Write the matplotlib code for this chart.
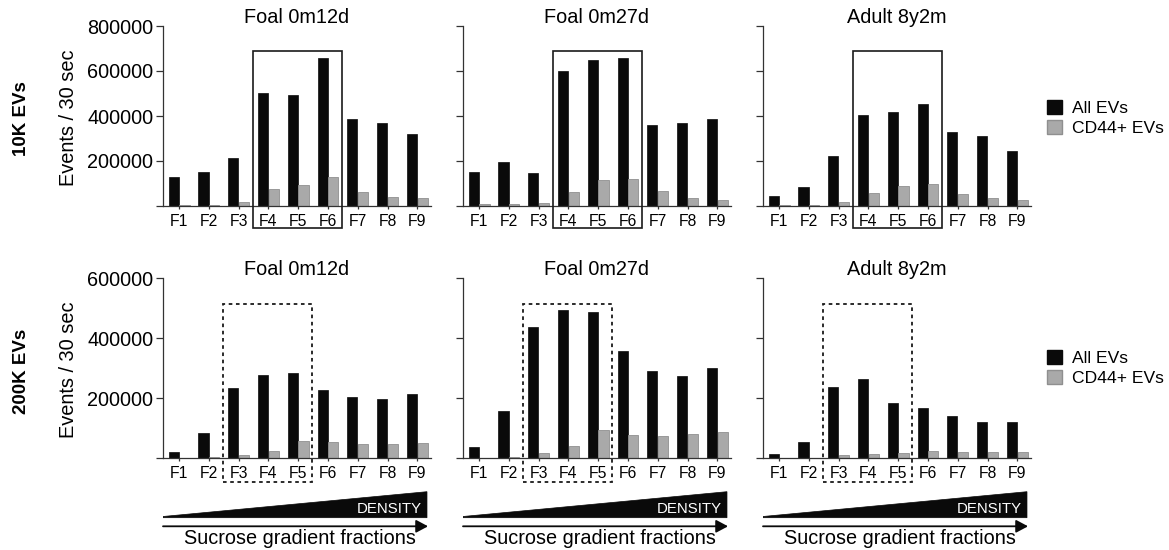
import matplotlib
matplotlib.use("Agg")
import matplotlib.pyplot as plt
from matplotlib.patches import Rectangle, Polygon, Patch

plt.rcParams['font.family'] = ['Liberation Sans', 'DejaVu Sans']

fractions = ["F1", "F2", "F3", "F4", "F5", "F6", "F7", "F8", "F9"]
titles = ["Foal 0m12d", "Foal 0m27d", "Adult 8y2m"]
row_labels = ["10K EVs", "200K EVs"]
legend_labels = ["All EVs", "CD44+ EVs"]

# 10K EVs
all_10k = [
    [130000, 153000, 213000, 500000, 493000, 659000, 385000, 369000, 321000],
    [150000, 194000, 145000, 598000, 649000, 658000, 358000, 370000, 388000],
    [46000, 86000, 221000, 403000, 418000, 455000, 329000, 311000, 244000],
]
cd44_10k = [
    [5000, 5000, 19000, 75000, 95000, 127000, 61000, 41000, 36000],
    [7000, 10000, 13000, 61000, 114000, 121000, 67000, 37000, 27000],
    [3000, 3000, 18000, 56000, 87000, 98000, 53000, 36000, 25000],
]
# 200K EVs
all_200k = [
    [20000, 84000, 234000, 277000, 284000, 228000, 204000, 198000, 212000],
    [36000, 158000, 438000, 494000, 488000, 356000, 291000, 272000, 300000],
    [14000, 54000, 238000, 264000, 184000, 168000, 139000, 119000, 121000],
]
cd44_200k = [
    [0, 2000, 9000, 23000, 56000, 53000, 46000, 48000, 50000],
    [0, 2000, 16000, 40000, 92000, 78000, 73000, 79000, 87000],
    [0, 1000, 9000, 13000, 18000, 22000, 21000, 19000, 20000],
]

rows = [(all_10k, cd44_10k), (all_200k, cd44_200k)]
y_max = [800000, 600000]
y_ticks = [[0, 200000, 400000, 600000, 800000], [0, 200000, 400000, 600000]]
box_range = [(3, 5), (2, 4)]      # F4-F6 solid, F3-F5 dotted
box_y = [(-98000, 689000), (-81000, 515000)]

W, H = 1169, 550
fig = plt.figure(figsize=(W / 100, H / 100), dpi=100)


def px_axes(x, y_top, w, h):
    return fig.add_axes([x / W, 1 - (y_top + h) / H, w / W, h / H])


lefts = [163, 463, 763]
tops = [26, 278]
aw, ah = 268, 180
black = "#0a0a0a"
gray = "#a9a9a9"
spine_c = "#333333"
xs = list(range(len(fractions)))

for r, (all_vals, cd_vals) in enumerate(rows):
    for c in range(3):
        ax = px_axes(lefts[c], tops[r], aw, ah)
        ax.bar([x - 0.18 for x in xs], all_vals[c], width=0.34, color=black, edgecolor=black, linewidth=0.5)
        ax.bar([x + 0.18 for x in xs], cd_vals[c], width=0.34, color=gray, edgecolor="#8f8f8f", linewidth=0.6)
        ax.set_xlim(-0.54, 8.46)
        ax.set_ylim(0, y_max[r])
        ax.set_yticks(y_ticks[r])
        ax.set_xticks(xs)
        ax.set_xticklabels(fractions, fontsize=11.3)
        for s in ["top", "right"]:
            ax.spines[s].set_visible(False)
        for s in ["left", "bottom"]:
            ax.spines[s].set_color(spine_c)
            ax.spines[s].set_linewidth(0.9)
        ax.tick_params(axis="y", length=4.8, width=0.9, color=spine_c, pad=2.2, labelsize=14.3)
        ax.tick_params(axis="x", length=2.5, width=0.9, color=spine_c, pad=3)
        if c == 0:
            ax.set_yticklabels([str(v) if v else "" for v in y_ticks[r]])
        else:
            ax.set_yticklabels([])
        ax.text(0.5, 1.045, titles[c], transform=ax.transAxes, ha="center", va="center", fontsize=14.3)

        i0, i1 = box_range[r]
        x0, x1 = i0 - 0.52, i1 + 0.47
        y0, y1 = box_y[r]
        rect = Rectangle((x0, y0), x1 - x0, y1 - y0, fill=False, clip_on=False,
                         edgecolor="#1a1a1a", linewidth=1.2 if r == 0 else 1.3,
                         linestyle="-" if r == 0 else (0, (2, 2)), zorder=5)
        ax.add_patch(rect)

        if c == 2:
            handles = [Patch(facecolor=black, edgecolor=black),
                       Patch(facecolor=gray, edgecolor="#8f8f8f")]
            ax.legend(handles, legend_labels, loc="center left", bbox_to_anchor=(1.06, 0.49 if r == 0 else 0.5),
                      frameon=False, fontsize=12.6, handlelength=0.86, handleheight=0.86,
                      handletextpad=0.55, labelspacing=0.22, borderpad=0, borderaxespad=0)

        if r == 1:
            # density wedge + arrow below each bottom panel
            dax = px_axes(lefts[c], 485, aw, 63)
            dax.set_xlim(0, 1)
            dax.set_ylim(0, 63)
            dax.axis("off")
            base = 548 - 517.7
            topy = 548 - 491.7
            xr = 0.985
            dax.add_patch(Polygon([(0, base), (xr, base), (xr, topy), (0, base + 1.2)],
                                  closed=True, facecolor=black, edgecolor=black, linewidth=0.5))
            dax.text(0.966, 548 - 509, "DENSITY", color="white", ha="right", va="center", fontsize=10.8)
            dax.annotate("", xy=(0.989, 548 - 526.3), xytext=(0, 548 - 526.3),
                         arrowprops=dict(arrowstyle="-|>,head_length=0.6,head_width=0.32",
                                         mutation_scale=12, lw=1.3, color=black, shrinkA=0, shrinkB=0))
            dax.text(0.51, 548 - 538.3, "Sucrose gradient fractions", ha="center", va="center", fontsize=14.3)

    yc = tops[r] + ah / 2
    fig.text(68 / W, 1 - (yc + 2) / H, "Events / 30 sec", rotation=90, ha="center", va="center", fontsize=14.4)
    fig.text(22 / W, 1 - (yc + 3) / H, row_labels[r], rotation=90, ha="center", va="center",
             fontsize=13.5, fontweight="bold")

fig.savefig("out.png", dpi=100, facecolor="white")
